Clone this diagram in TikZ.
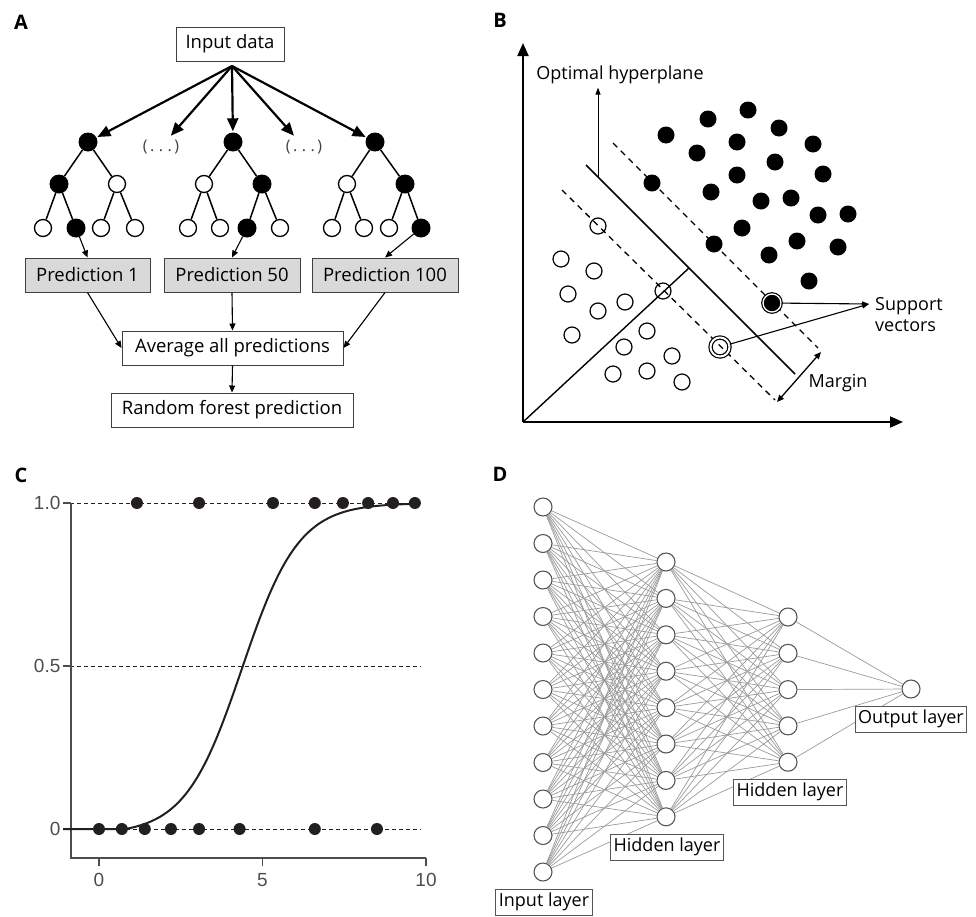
\documentclass[tikz,border=0pt]{standalone}
\usepackage{fontspec}
\setmainfont{Open Sans}
\newfontfamily\arialfont{Liberation Sans}
\usetikzlibrary{arrows.meta}
\definecolor{boxgray}{HTML}{D9D9D9}
\definecolor{ink}{HTML}{231F20}
\definecolor{wiregray}{HTML}{9A9A9A}
\definecolor{nodegray}{HTML}{555555}

\begin{document}
\begin{tikzpicture}
[x=1pt,y=-1pt,
panel/.style={font=\fontsize{20}{22}\selectfont\bfseries,inner sep=0pt},
box/.style={draw=darkgray,line width=1pt,minimum height=34pt,inner sep=0pt,font=\fontsize{18.5}{21}\selectfont},
bn/.style={circle,fill=black,inner sep=0pt,minimum size=19pt},
wn/.style={circle,draw,line width=1.3pt,fill=white,inner sep=0pt,minimum size=17pt},
branch/.style={line width=1.5pt},
fanarrow/.style={line width=2.2pt,-{Triangle[length=13pt,width=11pt]},shorten >=1pt},
flow/.style={line width=1.1pt,-{Triangle[length=7pt,width=6pt]}},
blackdot/.style={circle,fill=black,inner sep=0pt,minimum size=17pt},
opendot/.style={circle,draw,line width=1.2pt,inner sep=0pt,minimum size=16pt},
marginline/.style={line width=1.3pt,dash pattern=on 6pt off 5pt},
datadot/.style={circle,fill=ink,inner sep=0pt,minimum size=12pt},
nn/.style={circle,draw=nodegray,line width=1.1pt,fill=white,inner sep=0pt,minimum size=18pt},
wire/.style={wiregray,line width=0.7pt},
tag/.style={draw=nodegray,line width=0.8pt,fill=white,inner sep=3pt,minimum height=26pt,font=\fontsize{18}{20}\selectfont},
label/.style={font=\fontsize{18}{21}\selectfont}]
\useasboundingbox (0,0) rectangle (976,916);

% A: random forest
\node[panel] (la) at (21,22) {A};
\node[box,minimum width=108pt] (in) at (230,44) {Input data};
\coordinate (fan) at (232,66);
\node[bn] (r1) at (88,142) {};
\node[bn] (a1) at (59,184) {};
\node[wn] (b1) at (117,184) {};
\node[wn] (a11) at (43,228) {};
\node[bn] (a12) at (76,228) {};
\node[wn] (b11) at (101,228) {};
\node[wn] (b12) at (135,228) {};
\node[bn] (r2) at (233,142) {};
\node[wn] (a2) at (204,184) {};
\node[bn] (b2) at (262,184) {};
\node[wn] (a21) at (188,228) {};
\node[wn] (a22) at (220,228) {};
\node[bn] (b21) at (247,228) {};
\node[wn] (b22) at (280,228) {};
\node[bn] (r3) at (375,142) {};
\node[wn] (a3) at (347,184) {};
\node[bn] (b3) at (405,184) {};
\node[wn] (a31) at (332,228) {};
\node[wn] (a32) at (364,228) {};
\node[wn] (b31) at (389,228) {};
\node[bn] (b32) at (421,228) {};
\node[font=\fontsize{16}{18}\selectfont,text=darkgray] (d1) at (161,147) {(\,.\;.\;.\,)};
\node[font=\fontsize{16}{18}\selectfont,text=darkgray] (d2) at (304,147) {(\,.\;.\;.\,)};
\foreach \t in {1,2,3}
\draw[branch] (a\t) -- (r\t) -- (b\t) (a\t1) -- (a\t) -- (a\t2) (b\t1) -- (b\t) -- (b\t2);
\foreach \to in {r1,d1,r2,d2,r3}
\draw[fanarrow] (fan) -- (\to);
\node[box,fill=boxgray,minimum width=125pt] (p1) at (87.5,275) {Prediction 1};
\node[box,fill=boxgray,minimum width=136pt] (p50) at (232,275) {Prediction 50};
\node[box,fill=boxgray,minimum width=146pt] (p100) at (385,275) {Prediction 100};
\node[box,minimum width=221pt] (avg) at (232.5,348) {Average all predictions};
\node[box,minimum width=242pt] (rf) at (232,410) {Random forest prediction};
\draw[flow] (a12) -- (p1.north);
\draw[flow] (b21) -- (p50.north);
\draw[flow] (b32) -- (p100.north);
\draw[flow] (p1.south) -- (avg.west);
\draw[flow] (p50.south) -- (avg.north);
\draw[flow] (p100.south) -- (avg.east);
\draw[flow] (avg.south) -- (rf.north);

% B: support vector machine
\node[panel] (lb) at (500,20) {B};
\coordinate (bo) at (523,422);
\coordinate (ytip) at (523,43);
\coordinate (xtip) at (903,422);
\draw[line width=2pt,-{Triangle[length=13pt,width=11pt]}] (bo) -- (ytip);
\draw[line width=2pt,-{Triangle[length=13pt,width=11pt]}] (bo) -- (xtip);
\coordinate (hpa) at (586,165);
\coordinate (hpb) at (795,374);
\coordinate (upa) at (613,143);
\coordinate (upb) at (818,348);
\coordinate (loa) at (562,190);
\coordinate (lob) at (775,400);
\coordinate (foot) at (689,268);
\coordinate (hpo) at (598,177);
\draw[line width=1.5pt] (hpa) -- (hpb);
\draw[marginline] (upa) -- (upb);
\draw[marginline] (loa) -- (lob);
\draw[line width=1.4pt] (bo) -- (foot);
\node[label] (oh) at (620,75) {Optimal hyperplane};
\draw[line width=1pt,-{Triangle[length=7pt,width=5pt]}] (hpo) -- (hpo |- oh.south);
\foreach \p [count=\k] in {(666,135),(708,119),(748,110),(779,128),(737,142),(697,153),
  (813,144),(775,162),(737,175),(823,174),(652,183),(711,192),(761,201),(791,198),
  (818,215),(848,214),(742,228),(714,244),(797,241),(838,247),(769,255),(809,281)}
\node[blackdot] (s\k) at \p {};
\foreach \p [count=\k] in {(561,259),(594,271),(568,294),(625,302),(598,311),(572,335),
  (647,331),(624,347),(672,356),(613,374),(647,371),(682,382),(598,226),(663,291)}
\node[opendot] (c\k) at \p {};
\node[circle,fill=black,draw,line width=1.2pt,double=white,double distance=1.3pt,inner sep=0pt,minimum size=18pt] (sv1) at (772,303) {};
\node[circle,draw,line width=1.2pt,double=white,double distance=2pt,inner sep=0pt,minimum size=19pt] (sv2) at (720,347) {};
\node[label,align=left,anchor=west,inner sep=0pt] (svt) at (875,315) {Support\\vectors};
\coordinate (svtip) at (869,304);
\draw[line width=1.1pt,-{Triangle[length=7pt,width=5pt]}] (sv1) -- (svtip);
\draw[line width=1.1pt,-{Triangle[length=7pt,width=5pt]}] (sv2) -- (svtip);
\coordinate (mga) at (777,402);
\coordinate (mgb) at (821,352);
\draw[line width=1.3pt,{Triangle[length=7pt,width=6pt]}-{Triangle[length=7pt,width=6pt]}] (mga) -- (mgb);
\node[label] (mg) at (838,383) {Margin};

% C: logistic regression
\node[panel] (lc) at (21,475) {C};
\begin{scope}[shift={(99pt,-829pt)},x=32.7pt,y=326pt,font=\arialfont\fontsize{19}{22}\selectfont,text=ink]
\foreach \v in {0,0.5,1}
\draw[ink,line width=0.9pt,dash pattern=on 4pt off 3pt] (-1.1,\v) -- (9.85,\v);
\draw[ink!80,line width=1.2pt] (-0.856,1) -- (-0.856,-0.089) -- (10,-0.089);
\foreach \v/\t in {0/0,0.5/0.5,1/1.0}
\draw[ink!80,line width=1.2pt] (-0.856,\v) -- ++(-8pt,0) node[anchor=east,inner sep=2pt] (yl\t) {\t};
\foreach \v in {0,5,10}
\draw[ink!80,line width=1.2pt] (\v,-0.089) -- ++(0,-8pt) node[anchor=north,inner sep=0pt,yshift=-7pt] (xl\v) {\v};
\draw[ink,line width=2pt,domain=-1.1:9.66,samples=150,smooth] plot (\x,{max(0,(1/(1+exp(-1.15*(\x-4.37)))-0.0163)/0.9837)});
\foreach \v [count=\k] in {1.16,3.06,5.32,6.6,7.46,8.23,8.99,9.66}
\node[datadot] (u\k) at (\v,1) {};
\foreach \v [count=\k] in {0,0.7,1.4,2.2,3.06,4.3,6.6,8.5}
\node[datadot] (z\k) at (\v,0) {};
\end{scope}

% D: neural network
\node[panel] (ld) at (500,474) {D};
\foreach \i in {1,...,11}
\node[nn] (i\i) at (543,{507+36.5*(\i-1)}) {};
\foreach \i in {1,...,8}
\node[nn] (h\i) at (666,{562+36.4*(\i-1)}) {};
\foreach \i in {1,...,5}
\node[nn] (g\i) at (788,{617+36.3*(\i-1)}) {};
\node[nn] (out) at (911,689) {};
\foreach \a in {1,...,11}
\foreach \b in {1,...,8}
\draw[wire] (i\a) -- (h\b);
\foreach \a in {1,...,8}
\foreach \b in {1,...,5}
\draw[wire] (h\a) -- (g\b);
\foreach \a in {1,...,5}
\draw[wire] (g\a) -- (out);
\node[tag,minimum width=90pt] (tin) at (544,902) {Input layer};
\node[tag,minimum width=107pt] (th1) at (667,847) {Hidden layer};
\node[tag,minimum width=107pt] (th2) at (790,792) {Hidden layer};
\node[tag,minimum width=107pt] (tout) at (911,719) {Output layer};
\end{tikzpicture}
\end{document}
